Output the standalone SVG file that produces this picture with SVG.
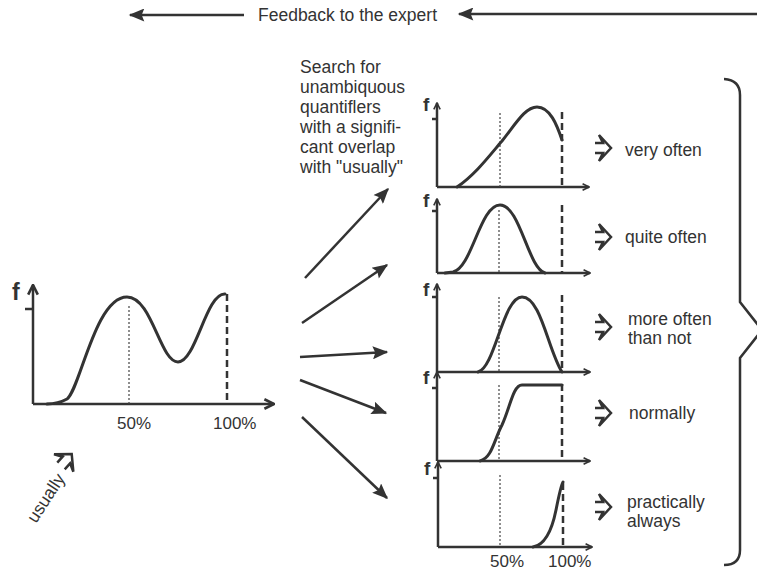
<svg xmlns="http://www.w3.org/2000/svg" width="757" height="573" viewBox="0 0 757 573">
<style>
text{font-family:"Liberation Sans",Arial,sans-serif;fill:#333}
.lbl{font-size:17.5px}
.ax{font-size:17px}
.f{font-weight:bold;font-size:19px}
.fm{font-weight:bold;font-size:23px}
.axis{fill:none;stroke:#333;stroke-width:2.5}
.curve{fill:none;stroke:#333;stroke-width:3;stroke-linecap:round}
.dash{fill:none;stroke:#333;stroke-width:2.5;stroke-dasharray:7,4}
.dot{fill:none;stroke:#444;stroke-width:1.2;stroke-dasharray:2,2}
.conn{fill:none;stroke:#333;stroke-width:2.5}
.icon{fill:none;stroke:#333;stroke-width:2.5;stroke-linejoin:miter}
</style>
<defs>
<marker id="head" viewBox="0 0 12 10" refX="11" refY="5" markerWidth="17" markerHeight="13" markerUnits="userSpaceOnUse" orient="auto">
<path d="M0,0 L12,5 L0,10 L2,5 z" fill="#333"/>
</marker>
<marker id="chev" viewBox="0 0 10 10" refX="9" refY="5" markerWidth="12" markerHeight="12" markerUnits="userSpaceOnUse" orient="auto">
<path d="M1,1 L9,5 L1,9" fill="none" stroke="#333" stroke-width="2.2"/>
</marker>
<marker id="chevs" viewBox="0 0 10 10" refX="9" refY="5" markerWidth="8" markerHeight="8" markerUnits="userSpaceOnUse" orient="auto">
<path d="M1,1 L9,5 L1,9" fill="none" stroke="#333" stroke-width="2"/>
</marker>
<path id="harrow" class="icon" d="M0,-5 L8,-5 L4,-13 L16,0 L4,13 L8,5 L0,5"/>
</defs>

<g id="feedback">
<text class="lbl" x="258" y="21">Feedback to the expert</text>
</g>

<g id="search-text" class="lbl">
<text x="300" y="73">Search for</text>
<text x="300" y="93">unambiquous</text>
<text x="300" y="113">quantiflers</text>
<text x="300" y="133">with a signifi-</text>
<text x="300" y="153">cant overlap</text>
<text x="300" y="173">with "usually"</text>
</g>

<g id="main-graph">
<path class="axis" d="M33,404 L33,285" marker-end="url(#chev)"/>
<path class="axis" d="M33,404 L274,404" marker-end="url(#chev)"/>
<path class="axis" d="M25,309 L33,309"/>
<text class="fm" x="12" y="300">f</text>
<path class="dot" d="M129,306 L129,404"/>
<path class="dash" d="M227,294 L227,404"/>
<path class="curve" d="M47,404 Q58,404 67,399 C80,390 95,297 127,297 C152,297 160,362 178,362 C196,362 206,293 225,294"/>
<text class="ax" x="117" y="429">50%</text>
<text class="ax" x="213" y="429">100%</text>
</g>

<g id="usually">
<use href="#harrow" transform="translate(61,466) rotate(-48)"/>
<text class="lbl" x="36" y="524" transform="rotate(-57 36 524)">usually</text>
</g>

<g id="graph-very-often">
<path class="axis" d="M437,187 L437,103" marker-end="url(#chevs)"/>
<path class="axis" d="M437,187 L589,187" marker-end="url(#chevs)"/>
<path class="axis" d="M432,119 L437,119"/>
<text class="f" x="423" y="111">f</text>
<path class="dot" d="M500,113 L500,187"/>
<path class="dash" d="M562,112 L562,187"/>
<path class="curve" d="M457,187 C475,175 490,155 502,141 C515,125 525,107 537,107 C550,107 557,125 562,140"/>
<use href="#harrow" x="595" y="148"/>
<text class="lbl" x="625" y="156">very often</text>
</g>

<g id="graph-quite-often">
<path class="axis" d="M437,273 L437,199" marker-end="url(#chevs)"/>
<path class="axis" d="M437,273 L590,273" marker-end="url(#chevs)"/>
<path class="axis" d="M432,211 L437,211"/>
<text class="f" x="423" y="207">f</text>
<path class="dot" d="M499,210 L499,273"/>
<path class="dash" d="M562,205 L562,273"/>
<path class="curve" d="M445,273 L453,272 C472,268 480,205 500,205 C520,205 528,268 545,273"/>
<use href="#harrow" x="595" y="237"/>
<text class="lbl" x="625" y="243">quite often</text>
</g>

<g id="graph-more-often">
<path class="axis" d="M437,372 L437,284" marker-end="url(#chevs)"/>
<path class="axis" d="M437,372 L590,372" marker-end="url(#chevs)"/>
<path class="axis" d="M432,297 L437,297"/>
<text class="f" x="423" y="296">f</text>
<path class="dot" d="M499,297 L499,372"/>
<path class="dash" d="M562,295 L562,372"/>
<path class="curve" d="M478,372 C495,368 503,297 522,297 C541,297 548,350 562,372"/>
<use href="#harrow" x="595" y="327"/>
<text class="lbl" x="628" y="325">more often</text>
<text class="lbl" x="628" y="344">than not</text>
</g>

<g id="graph-normally">
<path class="axis" d="M437,461 L437,372" marker-end="url(#chevs)"/>
<path class="axis" d="M437,461 L590,461" marker-end="url(#chevs)"/>
<path class="axis" d="M432,388 L437,388"/>
<text class="f" x="423" y="384">f</text>
<path class="dot" d="M499,385 L499,461"/>
<path class="dash" d="M562,384 L562,461"/>
<path class="curve" d="M480,461 C492,458 494,440 502,425 C510,408 513,385 522,385 L562,385"/>
<use href="#harrow" x="595" y="413"/>
<text class="lbl" x="629" y="419">normally</text>
</g>

<g id="graph-practically-always">
<path class="axis" d="M438,547 L438,462" marker-end="url(#chevs)"/>
<path class="axis" d="M438,547 L592,547" marker-end="url(#chevs)"/>
<path class="axis" d="M433,478 L438,478"/>
<text class="f" x="424" y="475">f</text>
<path class="dot" d="M500,475 L500,547"/>
<path class="dash" d="M563,483 L563,547"/>
<path class="curve" d="M533,547 C545,545 552,530 556,510 C559,495 561,485 563,482"/>
<use href="#harrow" x="595" y="507"/>
<text class="lbl" x="627" y="508">practically</text>
<text class="lbl" x="627" y="527">always</text>
<text class="ax" x="490" y="567">50%</text>
<text class="ax" x="548" y="567">100%</text>
</g>

<g id="brace">
<path d="M724,79 Q740,80 740,95 L740,302 L762,330 L740,358 L740,550 Q740,565 724,565" fill="none" stroke="#333" stroke-width="2.5" stroke-linejoin="miter"/>
</g>

<g id="connectors">
<path class="conn" d="M244,15 L130,15" marker-end="url(#head)"/>
<path class="conn" d="M757,14 L459,14" stroke-width="3" marker-end="url(#head)"/>
<path class="conn" d="M305,278 L388,189" marker-end="url(#head)"/>
<path class="conn" d="M302,323 L387,265" marker-end="url(#head)"/>
<path class="conn" d="M300,357 L387,352" marker-end="url(#head)"/>
<path class="conn" d="M300,380 L386,413" marker-end="url(#head)"/>
<path class="conn" d="M302,417 L387,498" marker-end="url(#head)"/>
</g>
</svg>
